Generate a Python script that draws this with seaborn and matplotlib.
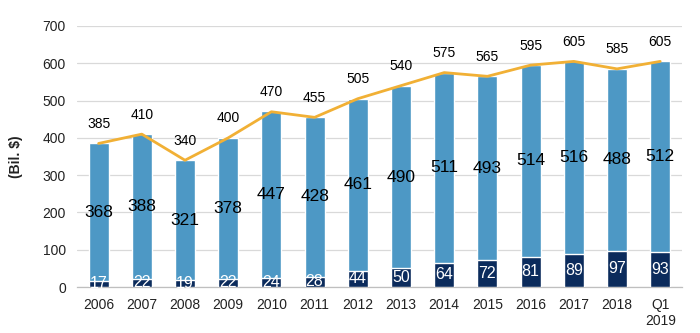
import numpy as np
import pandas as pd
import matplotlib
matplotlib.use("Agg")
import matplotlib.pyplot as plt
import seaborn as sns

categories = ["2006", "2007", "2008", "2009", "2010", "2011", "2012", "2013",
              "2014", "2015", "2016", "2017", "2018", "Q1\n2019"]
bottom_vals = [17, 22, 19, 22, 24, 28, 44, 50, 64, 72, 81, 89, 97, 93]
top_vals = [368, 388, 321, 378, 447, 428, 461, 490, 511, 493, 514, 516, 488, 512]
totals = [385, 410, 340, 400, 470, 455, 505, 540, 575, 565, 595, 605, 585, 605]

LIGHT = "#4D98C5"
NAVY = "#0B2B5C"
ORANGE = "#F1B035"

sns.set_theme(style="white")
plt.rcParams["font.family"] = ["Liberation Sans", "DejaVu Sans"]

fig = plt.figure(figsize=(7.0, 3.33), dpi=100)
ax = fig.add_axes([0.110, 0.138, 0.864, 0.784])

df = pd.DataFrame({"cat": categories, "bottom": bottom_vals, "top": top_vals,
                   "stack": np.array(bottom_vals) + np.array(top_vals),
                   "total": totals})

sns.barplot(data=df, x="cat", y="stack", color=LIGHT, width=0.46,
            saturation=1, ax=ax, zorder=2)
sns.barplot(data=df, x="cat", y="bottom", color=NAVY, width=0.46,
            saturation=1, ax=ax, zorder=3)
sns.lineplot(x=np.arange(len(categories)), y=df["total"], color=ORANGE,
             linewidth=2.0, ax=ax, zorder=4)

for i in range(len(categories)):
    b = bottom_vals[i]
    t = top_vals[i]
    ax.text(i, b + t / 2, str(t), ha="center", va="center", fontsize=12.5,
            color="black", zorder=5)
    ax.text(i, b / 2 + 1, str(b), ha="center", va="center", fontsize=11.5,
            color="white", zorder=5)
    ax.annotate(str(totals[i]), (i, totals[i]), xytext=(0, 14),
                textcoords="offset points", ha="center", va="center",
                fontsize=10, color="black", zorder=5)

ax.set_ylim(0, 700)
ax.set_xlim(-0.5, len(categories) - 0.5)
ax.set_yticks(range(0, 701, 100))
ax.yaxis.grid(True, color="#D9D9D9", linewidth=0.9, zorder=0)
ax.set_axisbelow(True)
for s in ["top", "right", "left"]:
    ax.spines[s].set_visible(False)
ax.spines["bottom"].set_color("#BFBFBF")
ax.spines["bottom"].set_linewidth(0.9)

ax.set_xticks(np.arange(len(categories)))
ax.set_xticklabels(categories)
ax.set_xticks(np.arange(-0.5, len(categories)), minor=True)
ax.tick_params(axis="x", which="major", length=0, pad=8, labelsize=10,
               labelcolor="#222222")
ax.tick_params(axis="x", which="minor", length=4, width=0.8, color="#BFBFBF",
               direction="out")
ax.tick_params(axis="y", length=0, pad=8, labelsize=10, labelcolor="#222222")

ax.set_xlabel("")
ax.set_ylabel("(Bil. $)", fontsize=10, fontweight="bold", labelpad=14,
              color="#222222")

fig.savefig("out.png", dpi=100)
